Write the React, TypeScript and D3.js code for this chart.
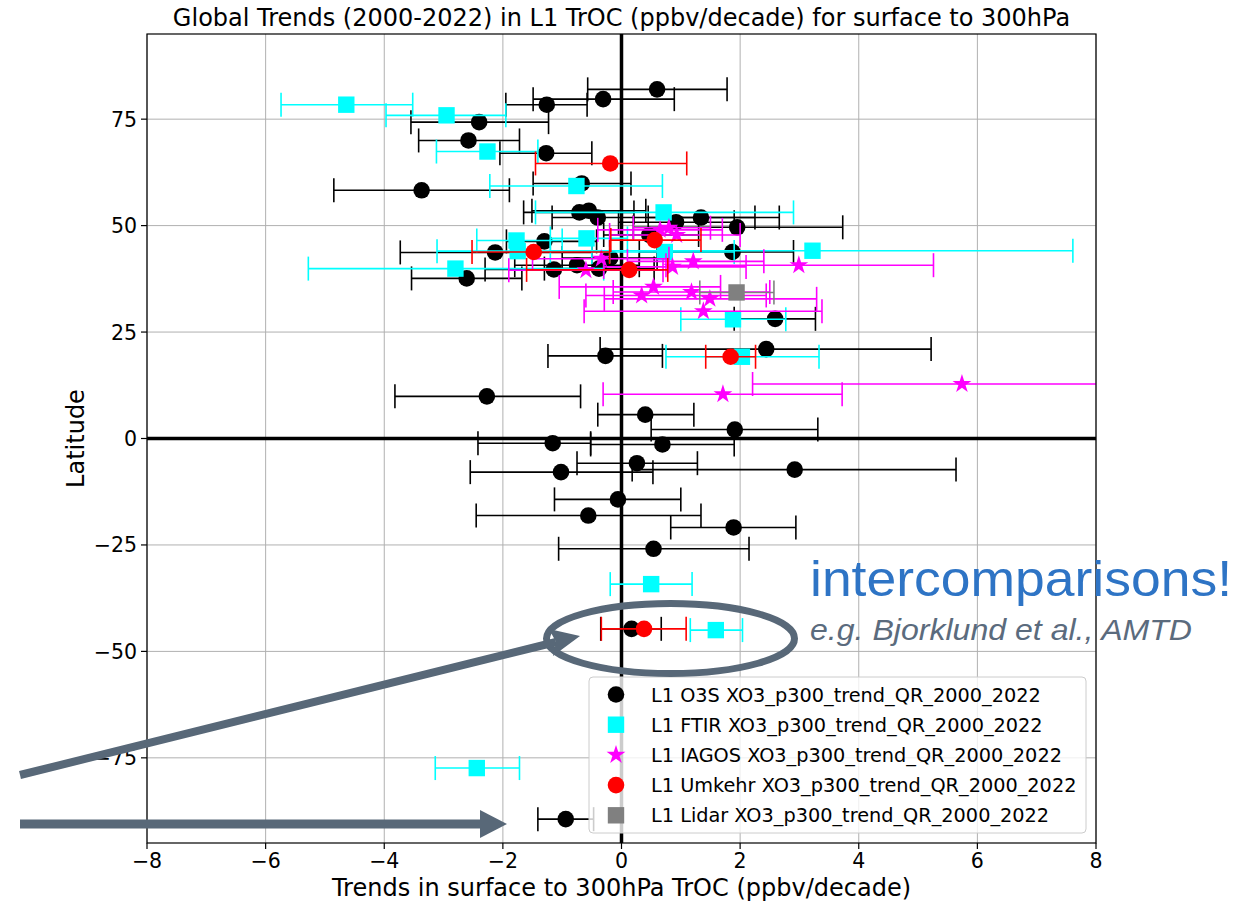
import React from "react";
import * as d3 from "d3";

// ---------- data ----------
// O3S (black circles): trend, latitude, lower, upper
const o3sTrend = [0.60, -0.31, -1.26, -2.40, -2.58, -1.27, -3.37, -0.67, -0.71, -0.55, -0.40, 1.34, 0.92, 1.95, -2.13, -2.61, -1.14, -1.30, -0.75, -0.38, -0.19, 1.87, 2.59, 0.47, -0.27, 2.44, -2.27, 0.40, 1.91, -1.16, 0.69, 0.26, -1.02, 2.92, -0.06, -0.56, 1.89, 0.54, 0.17, -0.94];
const o3sLat = [82.0, 79.7, 78.4, 74.3, 70.0, 67.0, 58.3, 59.9, 53.1, 53.5, 51.9, 51.9, 50.8, 49.6, 43.7, 37.6, 39.7, 46.3, 40.7, 39.9, 42.4, 43.8, 28.1, 47.8, 19.4, 21.0, 9.9, 5.6, 2.1, -1.1, -1.4, -5.8, -7.9, -7.3, -14.3, -18.1, -20.9, -25.9, -44.7, -89.4];
const o3sLo = [-0.57, -1.49, -1.95, -3.55, -3.42, -2.05, -4.85, -1.49, -1.65, -1.51, -1.17, 0.45, -0.05, 0.20, -3.73, -3.54, -2.30, -1.94, -1.80, -1.30, -1.00, 0.30, 1.90, -0.30, -1.24, -0.36, -3.82, -0.40, 0.50, -2.42, -0.52, -0.75, -2.55, 0.18, -1.13, -2.45, 0.83, -1.06, -0.35, -1.41];
const o3sHi = [1.78, 0.89, -0.58, -1.23, -1.72, -0.50, -1.89, 0.16, 0.21, 0.41, 2.66, 2.25, 1.90, 3.73, -0.50, -1.68, 0.00, -0.42, 0.30, 0.55, 0.60, 2.90, 3.27, 1.30, 0.69, 5.22, -0.69, 1.22, 3.31, -0.52, 1.90, 1.28, 0.53, 5.64, 1.00, 1.34, 2.94, 2.15, 0.67, -0.47];

// FTIR (cyan squares)
const ftirTrend = [-4.64, -2.95, -2.26, -0.76, 0.71, -1.77, -1.75, -0.59, -2.80, 0.73, 3.22, 1.88, 2.03, 0.50, 1.59, -2.44];
const ftirLat = [78.4, 75.9, 67.4, 59.3, 53.1, 46.5, 44.0, 47.0, 39.9, 43.8, 44.1, 28.0, 19.2, -34.2, -45.0, -77.4];
const ftirLo = [-5.74, -3.97, -3.12, -2.22, -1.45, -2.44, -3.11, -1.20, -5.28, -0.50, -1.20, 1.00, 0.75, -0.19, 1.16, -3.14];
const ftirHi = [-3.52, -1.95, -1.41, 0.69, 2.90, -1.00, -0.20, 0.10, -0.30, 1.90, 7.61, 2.77, 3.33, 1.19, 2.04, -1.72];

// IAGOS (magenta stars)
const iagosTrend = [1.71, 5.74, 2.99, 1.21, 0.86, -0.34, -0.60, 0.54, 0.34, 1.18, 1.49, 1.38, 0.65, 0.93, 0.80];
const iagosLat = [10.4, 12.8, 40.7, 41.6, 40.3, 42.2, 39.5, 35.6, 33.6, 34.4, 32.8, 29.9, 49.0, 47.8, 49.5];
const iagosLo = [-0.31, 2.21, 0.75, 0.10, -0.30, -1.50, -1.90, -1.05, -0.60, -0.14, -0.29, -0.63, -0.40, -0.20, 0.20];
const iagosHi = [3.72, 9.30, 5.26, 2.40, 2.10, 0.80, 0.70, 1.67, 2.44, 2.50, 3.29, 3.38, 1.70, 2.00, 1.50];

// Umkehr (red circles)
const umkTrend = [-0.19, -1.48, 0.56, 0.13, 1.84, 0.38];
const umkLat = [64.6, 43.8, 46.6, 39.6, 19.2, -44.7];
const umkLo = [-1.45, -2.52, -0.18, -1.60, 1.42, -0.34];
const umkHi = [1.10, -0.20, 1.34, 0.78, 2.26, 1.09];

// Lidar (grey squares)
const lidarTrend = [1.94];
const lidarLat = [34.3];
const lidarLo = [1.32];
const lidarHi = [2.57];

const xTicks = [-8, -6, -4, -2, 0, 2, 4, 6, 8];
const yTicks = [-75, -50, -25, 0, 25, 50, 75];
const legendLabels = [
  "L1 O3S XO3_p300_trend_QR_2000_2022",
  "L1 FTIR XO3_p300_trend_QR_2000_2022",
  "L1 IAGOS XO3_p300_trend_QR_2000_2022",
  "L1 Umkehr XO3_p300_trend_QR_2000_2022",
  "L1 Lidar XO3_p300_trend_QR_2000_2022",
];
const titleText = "Global Trends (2000-2022) in L1 TrOC (ppbv/decade) for surface to 300hPa";
const xLabelText = "Trends in surface to 300hPa TrOC (ppbv/decade)";
const yLabelText = "Latitude";

// ---------- layout ----------
const W = 1237, H = 904;
const L = 147, R = 1096, T = 34, B = 843;
const FONT = "DejaVu Sans, sans-serif";

type Series = { name: string; color: string; ecolor: string; shape: string; t: number[]; lat: number[]; lo: number[]; hi: number[] };
const series: Series[] = [
  { name: legendLabels[0], color: "#000000", ecolor: "#000000", shape: "circle", t: o3sTrend, lat: o3sLat, lo: o3sLo, hi: o3sHi },
  { name: legendLabels[1], color: "#00ffff", ecolor: "#00ffff", shape: "square", t: ftirTrend, lat: ftirLat, lo: ftirLo, hi: ftirHi },
  { name: legendLabels[2], color: "#ff00ff", ecolor: "#ff00ff", shape: "star", t: iagosTrend, lat: iagosLat, lo: iagosLo, hi: iagosHi },
  { name: legendLabels[3], color: "#ff0000", ecolor: "#ff0000", shape: "circle", t: umkTrend, lat: umkLat, lo: umkLo, hi: umkHi },
  { name: legendLabels[4], color: "#808080", ecolor: "#808080", shape: "square", t: lidarTrend, lat: lidarLat, lo: lidarLo, hi: lidarHi },
];

const x = d3.scaleLinear().domain([-8, 8]).range([L, R]);
const y = d3.scaleLinear().domain([-95, 95]).range([B, T]);
const starPath = d3.symbol().type(d3.symbolStar).size(110)() as string;

function Marker({ shape, color, cx, cy }: { shape: string; color: string; cx: number; cy: number }) {
  if (shape === "circle") return <circle cx={cx} cy={cy} r={8.3} fill={color} />;
  if (shape === "square") return <rect x={cx - 8.2} y={cy - 8.2} width={16.4} height={16.4} fill={color} />;
  return <path d={starPath} transform={`translate(${cx},${cy})`} fill={color} />;
}

const fmt = (v: number) => (v < 0 ? "\u2212" + Math.abs(v) : String(v));

export default function App() {
  const slate = "#586878";
  return (
    <svg width={W} height={H} style={{ position: "absolute", left: 0, top: 0, background: "#fff" }} fontFamily={FONT}>
      <defs>
        <clipPath id="plotclip">
          <rect x={L} y={T} width={R - L} height={B - T} />
        </clipPath>
      </defs>
      <rect x={0} y={0} width={W} height={H} fill="#fff" />
      {/* grid */}
      {xTicks.map((v) => (
        <line key={"gx" + v} x1={x(v)} x2={x(v)} y1={T} y2={B} stroke="#b0b0b0" strokeWidth={1} />
      ))}
      {yTicks.map((v) => (
        <line key={"gy" + v} x1={L} x2={R} y1={y(v)} y2={y(v)} stroke="#b0b0b0" strokeWidth={1} />
      ))}
      {/* zero lines */}
      <line x1={L} x2={R} y1={y(0)} y2={y(0)} stroke="#000" strokeWidth={3.5} />
      <line x1={x(0)} x2={x(0)} y1={T} y2={B} stroke="#000" strokeWidth={3.5} />
      {/* data */}
      <g clipPath="url(#plotclip)">
        {series.map((s, si) => (
          <g key={"s" + si}>
            {s.t.map((v, i) => {
              const cy = y(s.lat[i]);
              return (
                <g key={i}>
                  <line x1={x(s.lo[i])} x2={x(s.hi[i])} y1={cy} y2={cy} stroke={s.ecolor} strokeWidth={1.6} />
                  <line x1={x(s.lo[i])} x2={x(s.lo[i])} y1={cy - 12} y2={cy + 12} stroke={s.ecolor} strokeWidth={1.6} />
                  <line x1={x(s.hi[i])} x2={x(s.hi[i])} y1={cy - 12} y2={cy + 12} stroke={s.ecolor} strokeWidth={1.6} />
                  <Marker shape={s.shape} color={s.color} cx={x(v)} cy={cy} />
                </g>
              );
            })}
          </g>
        ))}
      </g>
      {/* frame */}
      <rect x={L} y={T} width={R - L} height={B - T} fill="none" stroke="#000" strokeWidth={1.2} />
      {/* ticks */}
      {xTicks.map((v) => (
        <g key={"tx" + v}>
          <line x1={x(v)} x2={x(v)} y1={B} y2={B + 6} stroke="#000" strokeWidth={1.2} />
          <text x={x(v)} y={B + 25} textAnchor="middle" fontSize={20.5}>{fmt(v)}</text>
        </g>
      ))}
      {yTicks.map((v) => (
        <g key={"ty" + v}>
          <line x1={L - 6} x2={L} y1={y(v)} y2={y(v)} stroke="#000" strokeWidth={1.2} />
          <text x={L - 10} y={y(v) + 7.5} textAnchor="end" fontSize={20.5}>{fmt(v)}</text>
        </g>
      ))}
      {/* title and labels */}
      <text x={(L + R) / 2} y={26} textAnchor="middle" fontSize={24}>{titleText}</text>
      <text x={(L + R) / 2} y={896} textAnchor="middle" fontSize={24}>{xLabelText}</text>
      <text transform={`translate(${84},${(T + B) / 2}) rotate(-90)`} textAnchor="middle" fontSize={24}>{yLabelText}</text>
      {/* legend */}
      <rect x={589} y={677} width={497} height={156} rx={4} fill="#fff" fillOpacity={0.8} stroke="#cccccc" strokeWidth={1} />
      {series.map((s, i) => {
        const ly = 694.5 + i * 30.2;
        return (
          <g key={"lg" + i}>
            <Marker shape={s.shape} color={s.color} cx={616} cy={ly} />
            <text x={651} y={ly + 7} fontSize={19.3}>{s.name}</text>
          </g>
        );
      })}
      {/* annotations */}
      <ellipse cx={670.5} cy={638.5} rx={124} ry={35} fill="none" stroke={slate} strokeWidth={7} />
      <line x1={20} y1={775} x2={556} y2={642} stroke={slate} strokeWidth={8} />
      <path d="M580,636 L549,629 L556,642 L553,656 Z" fill={slate} />
      <line x1={20} y1={824} x2={482} y2={824} stroke={slate} strokeWidth={9} />
      <path d="M507,824 L480,810 L480,838 Z" fill={slate} />
      <text x={810} y={596} fontFamily="Liberation Sans, Arial, sans-serif" fontSize={50} fill="#2e74c5" textLength={422} lengthAdjust="spacingAndGlyphs">intercomparisons!</text>
      <text x={810} y={640} fontFamily="Liberation Sans, Arial, sans-serif" fontStyle="italic" fontSize={30} fill="#5b6b7d" textLength={382} lengthAdjust="spacingAndGlyphs">e.g. Bjorklund et al., AMTD</text>
    </svg>
  );
}
